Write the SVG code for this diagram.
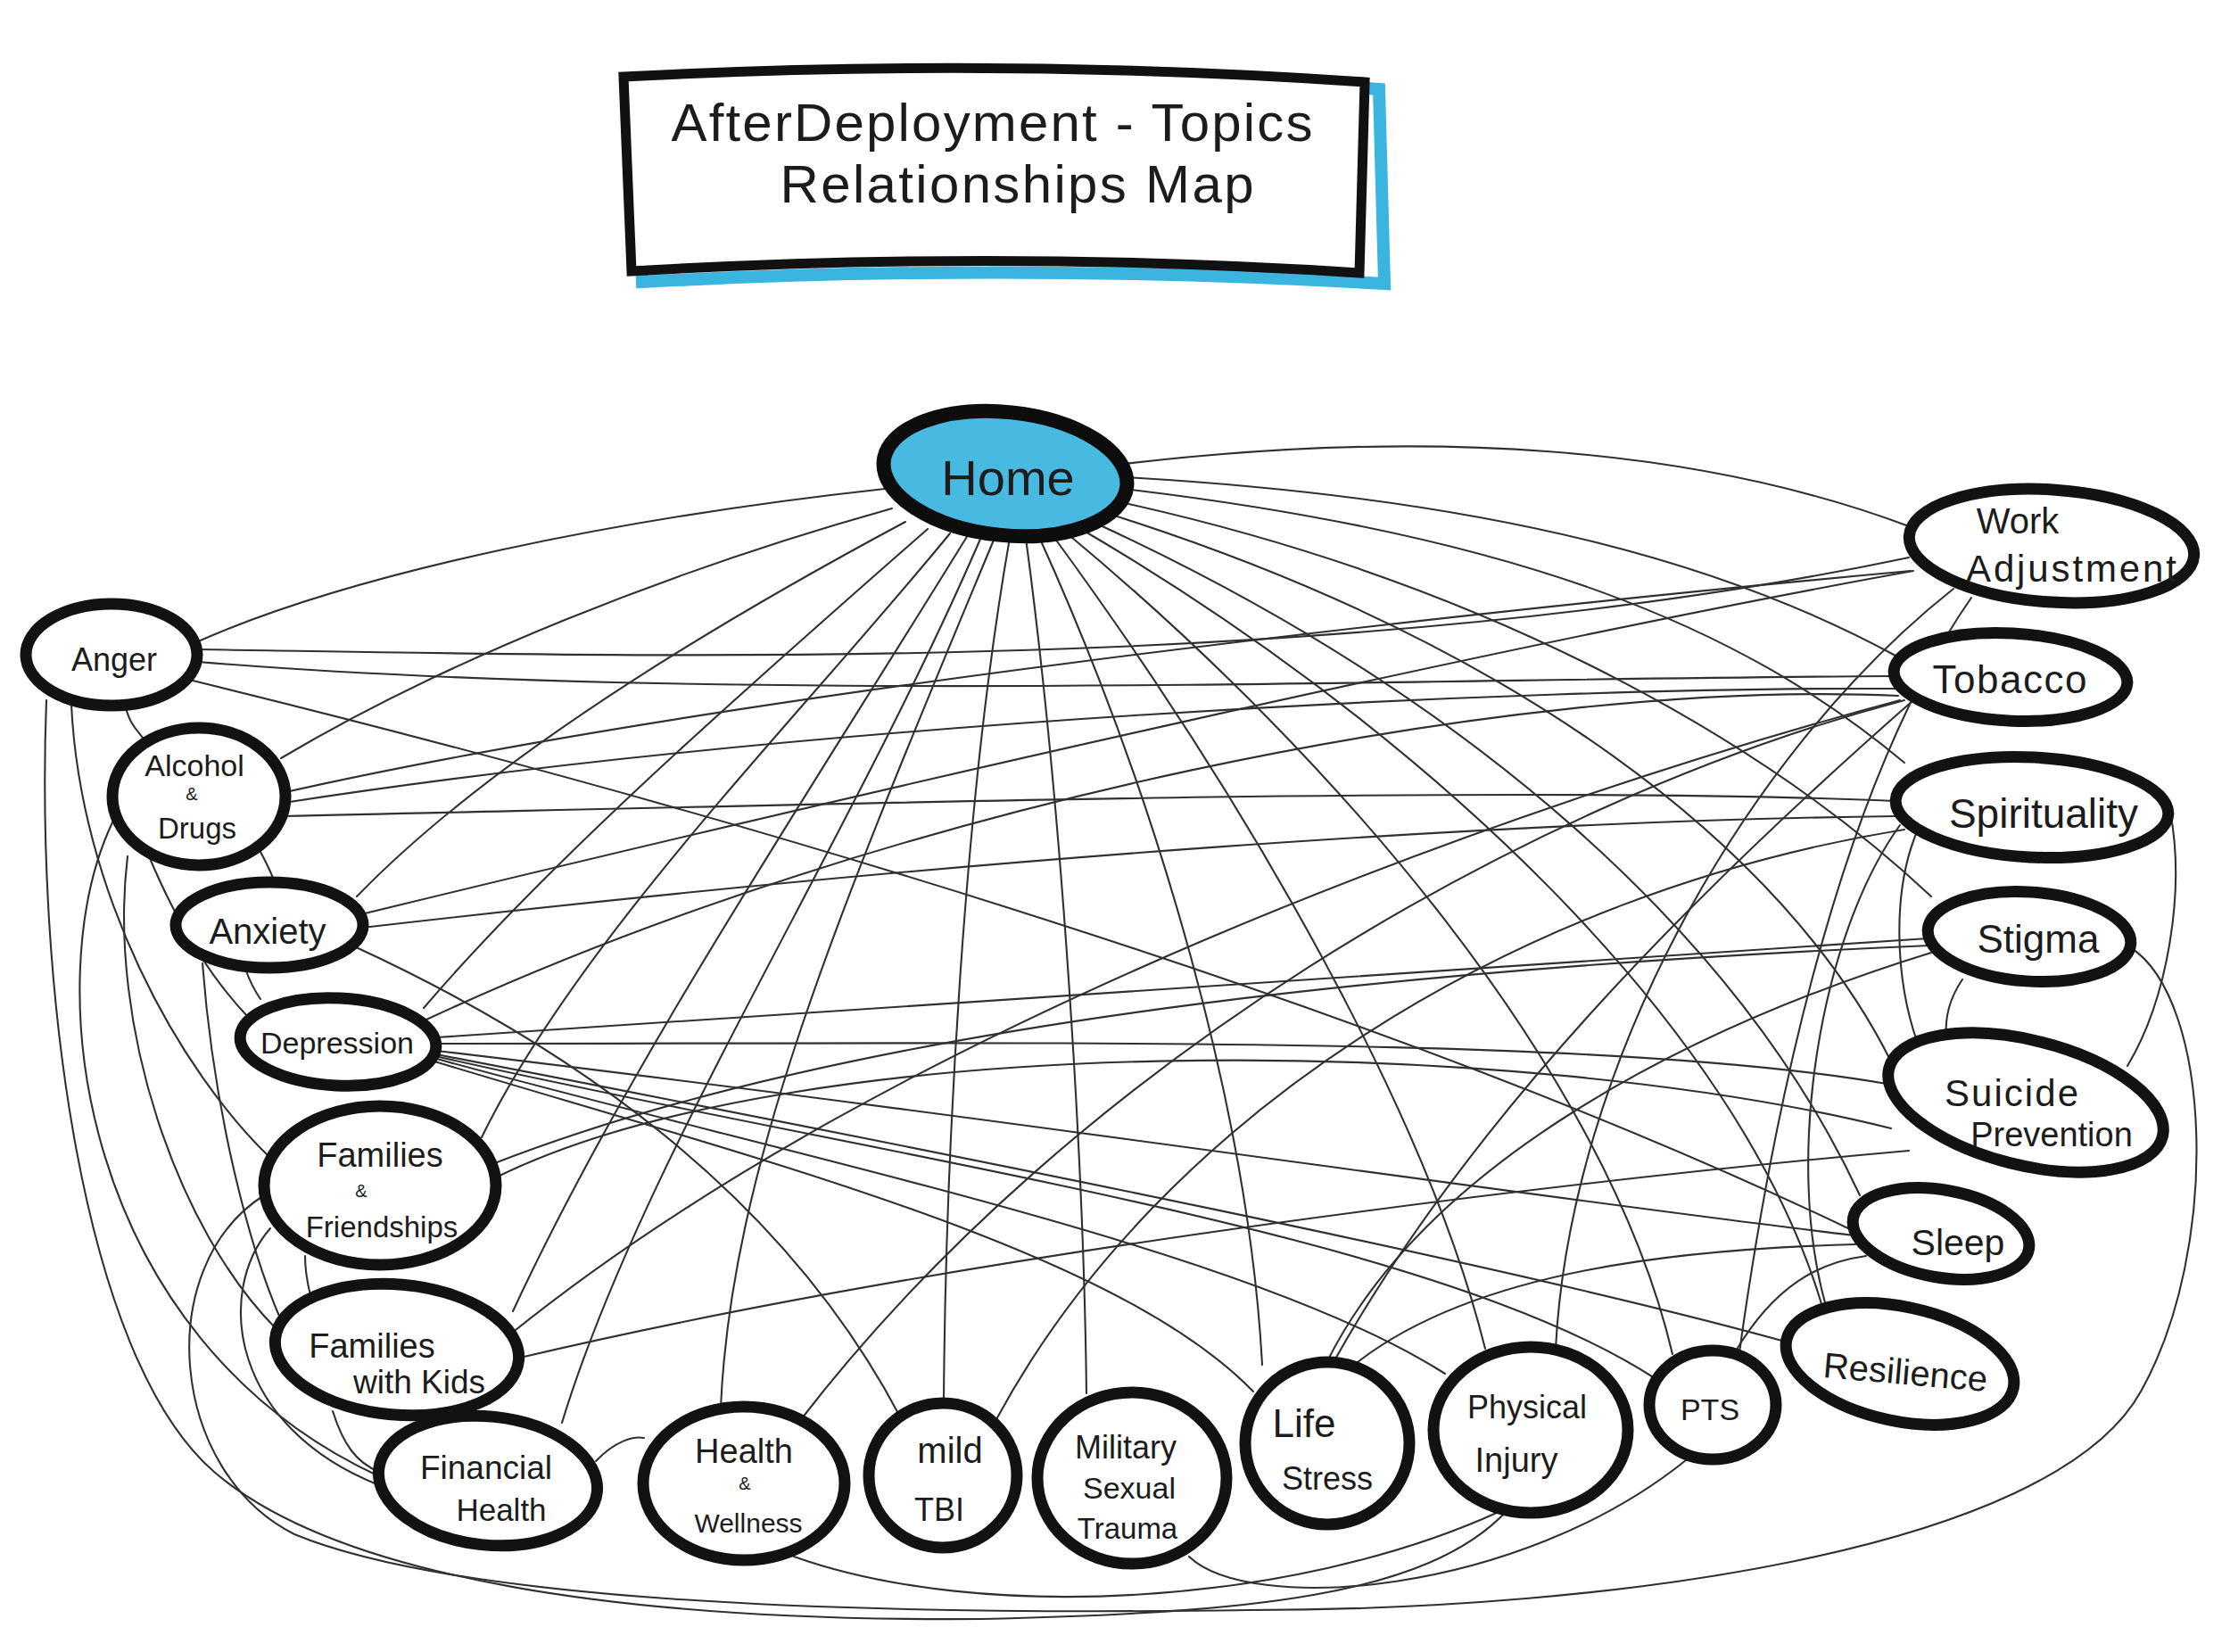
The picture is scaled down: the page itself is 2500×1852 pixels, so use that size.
<svg xmlns="http://www.w3.org/2000/svg" width="2500" height="1852" viewBox="0 0 2500 1852">
<style>
.bg{fill:#ffffff}
.e{fill:none;stroke:#303030;stroke-width:2.1;stroke-linecap:round}
.n{fill:#ffffff;stroke:#121212;stroke-width:13}
.t{font-family:"Liberation Sans","DejaVu Sans",sans-serif;fill:#1c1c1c;text-anchor:middle}
.s{font-size:20px}
</style>
<rect class="bg" x="0" y="0" width="2500" height="1852"/>
<g id="title">
<path d="M 712,92 Q 1125,72 1546,100 L 1552,318 Q 1130,294 720,316 Z" fill="none" stroke="#3cb4e0" stroke-width="14"/>
<path d="M 699,86 Q 1125,64 1530,92 L 1524,306 Q 1125,280 708,304 Z" fill="#ffffff" stroke="#111" stroke-width="11"/>
<text class="t" x="1112" y="158" font-size="60" textLength="719">AfterDeployment - Topics</text>
<text class="t" x="1140" y="227" font-size="60" textLength="531">Relationships Map</text>
</g>
<g id="connectors">
<path class="e" d="M 992,548 C 700,580 400,640 220,720"/>
<path class="e" d="M 1000,570 C 750,640 500,740 315,850"/>
<path class="e" d="M 1015,585 C 800,700 550,850 400,1005"/>
<path class="e" d="M 1040,593 C 850,760 620,960 475,1130"/>
<path class="e" d="M 1065,598 C 900,800 650,1050 540,1275"/>
<path class="e" d="M 1085,600 C 900,900 700,1200 575,1470"/>
<path class="e" d="M 1100,602 C 950,950 720,1300 630,1595"/>
<path class="e" d="M 1115,603 C 950,1000 820,1300 808,1578"/>
<path class="e" d="M 1132,603 C 1080,900 1060,1300 1058,1572"/>
<path class="e" d="M 1150,603 C 1190,900 1215,1300 1218,1562"/>
<path class="e" d="M 1165,602 C 1300,900 1400,1250 1415,1530"/>
<path class="e" d="M 1180,600 C 1400,900 1600,1250 1665,1512"/>
<path class="e" d="M 1195,597 C 1500,850 1800,1200 1875,1518"/>
<path class="e" d="M 1210,592 C 1600,820 1950,1150 2043,1465"/>
<path class="e" d="M 1225,585 C 1650,780 1950,1050 2085,1340"/>
<path class="e" d="M 1240,575 C 1700,720 2000,950 2120,1190"/>
<path class="e" d="M 1252,562 C 1700,660 2000,850 2165,1005"/>
<path class="e" d="M 1260,548 C 1700,600 1950,700 2135,855"/>
<path class="e" d="M 1262,535 C 1700,560 1950,640 2125,735"/>
<path class="e" d="M 1260,520 C 1600,480 1900,500 2140,590"/>
<path class="e" d="M 222,728 C 700,735 1500,760 2140,625"/>
<path class="e" d="M 222,742 C 800,790 1600,760 2122,758"/>
<path class="e" d="M 212,762 C 900,930 1600,1150 2078,1380"/>
<path class="e" d="M 140,790 C 145,810 150,815 165,833"/>
<path class="e" d="M 80,790 C 90,1000 200,1200 305,1300"/>
<path class="e" d="M 320,888 C 800,780 1600,690 2142,640"/>
<path class="e" d="M 318,900 C 900,810 1700,770 2125,772"/>
<path class="e" d="M 316,915 C 1000,900 1700,880 2124,898"/>
<path class="e" d="M 292,955 C 300,970 305,980 308,990"/>
<path class="e" d="M 165,955 C 200,1040 240,1100 278,1140"/>
<path class="e" d="M 143,960 C 120,1150 200,1380 310,1490"/>
<path class="e" d="M 127,920 C 40,1100 90,1500 425,1655"/>
<path class="e" d="M 405,1025 C 1000,880 1700,720 2145,640"/>
<path class="e" d="M 406,1040 C 1100,960 1700,920 2126,915"/>
<path class="e" d="M 395,1060 C 700,1200 900,1380 1010,1590"/>
<path class="e" d="M 275,1086 C 280,1100 285,1110 292,1120"/>
<path class="e" d="M 227,1080 C 240,1250 280,1400 315,1480"/>
<path class="e" d="M 478,1143 C 1000,900 1700,760 2128,780"/>
<path class="e" d="M 490,1163 C 1100,1120 1700,1080 2162,1052"/>
<path class="e" d="M 491,1170 C 1200,1170 1800,1160 2115,1215"/>
<path class="e" d="M 490,1178 C 1100,1250 1700,1340 2078,1385"/>
<path class="e" d="M 489,1182 C 1100,1300 1700,1420 2005,1505"/>
<path class="e" d="M 488,1184 C 1000,1300 1600,1380 1855,1545"/>
<path class="e" d="M 486,1186 C 900,1300 1400,1400 1620,1540"/>
<path class="e" d="M 484,1189 C 850,1300 1250,1400 1405,1560"/>
<path class="e" d="M 556,1320 C 900,1150 1700,1160 2120,1265"/>
<path class="e" d="M 552,1305 C 1000,1130 1700,1080 2163,1060"/>
<path class="e" d="M 342,1408 C 342,1425 345,1440 348,1452"/>
<path class="e" d="M 303,1377 C 240,1450 260,1600 425,1665"/>
<path class="e" d="M 573,1495 C 1000,1150 1700,900 2130,785"/>
<path class="e" d="M 583,1522 C 1100,1400 1800,1320 2140,1290"/>
<path class="e" d="M 373,1582 C 385,1620 400,1640 425,1650"/>
<path class="e" d="M 668,1638 C 690,1615 710,1610 722,1612"/>
<path class="e" d="M 899,1590 C 1200,1200 1700,900 2135,785"/>
<path class="e" d="M 890,1745 C 1100,1820 1450,1800 1680,1695"/>
<path class="e" d="M 1116,1593 C 1300,1250 1700,1000 2135,930"/>
<path class="e" d="M 1333,1745 C 1400,1810 1700,1790 1890,1637"/>
<path class="e" d="M 1512,1535 C 1650,1420 1900,1400 2080,1395"/>
<path class="e" d="M 1487,1528 C 1600,1300 1900,1150 2165,1068"/>
<path class="e" d="M 2145,785 C 1900,1000 1650,1250 1495,1527"/>
<path class="e" d="M 2190,660 C 1950,850 1760,1200 1744,1512"/>
<path class="e" d="M 2210,670 C 2050,900 1980,1300 1950,1516"/>
<path class="e" d="M 1945,1516 C 1990,1440 2040,1415 2092,1408"/>
<path class="e" d="M 2150,930 C 2120,1000 2125,1100 2150,1170"/>
<path class="e" d="M 2433,910 C 2450,1000 2430,1120 2385,1195"/>
<path class="e" d="M 2130,925 C 2040,1050 2000,1300 2047,1464"/>
<path class="e" d="M 2200,1098 C 2185,1120 2180,1140 2182,1163"/>
<path class="e" d="M 2388,1062 C 2480,1120 2490,1400 2400,1560 C 2300,1740 1800,1805 1400,1805 C 900,1812 500,1790 330,1720 C 190,1650 170,1420 296,1340"/>
<path class="e" d="M 1690,1693 C 1600,1790 1400,1808 1100,1815 C 700,1818 380,1770 240,1650 C 90,1520 40,1100 52,785"/>
</g>
<g id="home"><ellipse cx="1127" cy="531" rx="137" ry="69" transform="rotate(6 1127 531)" fill="#48b9e0" stroke="#0d0d0d" stroke-width="16"/><text class="t" x="1130" y="555" font-size="56">Home</text></g>
<g id="work-adjustment"><ellipse class="n" cx="2300" cy="612" rx="160" ry="63" transform="rotate(4 2300 612)"/><text class="t" x="2262" y="598" font-size="40">Work</text><text class="t" x="2322" y="652" font-size="42" textLength="236">Adjustment</text></g>
<g id="tobacco"><ellipse class="n" cx="2254" cy="759" rx="131" ry="49" transform="rotate(3 2254 759)"/><text class="t" x="2253" y="777" font-size="44" textLength="173">Tobacco</text></g>
<g id="spirituality"><ellipse class="n" cx="2278" cy="905" rx="153" ry="56" transform="rotate(3 2278 905)"/><text class="t" x="2291" y="928" font-size="46">Spirituality</text></g>
<g id="stigma"><ellipse class="n" cx="2275" cy="1050" rx="114" ry="50" transform="rotate(4 2275 1050)"/><text class="t" x="2285" y="1068" font-size="44">Stigma</text></g>
<g id="suicide-prevention"><ellipse class="n" cx="2271" cy="1236" rx="158" ry="70" transform="rotate(14 2271 1236)"/><text class="t" x="2255" y="1240" font-size="42" textLength="150">Suicide</text><text class="t" x="2300" y="1285" font-size="38">Prevention</text></g>
<g id="sleep"><ellipse class="n" cx="2176" cy="1383" rx="100" ry="49" transform="rotate(10 2176 1383)"/><text class="t" x="2195" y="1407" font-size="41">Sleep</text></g>
<g id="resilience"><ellipse class="n" cx="2130" cy="1529" rx="130" ry="64" transform="rotate(12 2130 1529)"/><text class="t" x="2136" y="1552" font-size="40" transform="rotate(5 2136 1540)">Resilience</text></g>
<g id="pts"><ellipse class="n" cx="1920" cy="1575" rx="71" ry="61"/><text class="t" x="1917" y="1592" font-size="34">PTS</text></g>
<g id="physical-injury"><ellipse class="n" cx="1716" cy="1603" rx="109" ry="93"/><text class="t" x="1712" y="1590" font-size="36">Physical</text><text class="t" x="1700" y="1650" font-size="38">Injury</text></g>
<g id="life-stress"><ellipse class="n" cx="1488" cy="1618" rx="92" ry="91"/><text class="t" x="1462" y="1611" font-size="44">Life</text><text class="t" x="1488" y="1670" font-size="36">Stress</text></g>
<g id="military-sexual-trauma"><ellipse class="n" cx="1269" cy="1657" rx="106" ry="96"/><text class="t" x="1262" y="1635" font-size="36">Military</text><text class="t" x="1266" y="1680" font-size="34">Sexual</text><text class="t" x="1264" y="1725" font-size="33">Trauma</text></g>
<g id="mild-tbi"><ellipse class="n" cx="1057" cy="1654" rx="83" ry="81"/><text class="t" x="1065" y="1640" font-size="40">mild</text><text class="t" x="1053" y="1705" font-size="36">TBI</text></g>
<g id="health-wellness"><ellipse class="n" cx="834" cy="1663" rx="113" ry="86"/><text class="t" x="834" y="1640" font-size="38">Health</text><text class="t s" x="835" y="1670">&amp;</text><text class="t" x="839" y="1718" font-size="30">Wellness</text></g>
<g id="financial-health"><ellipse class="n" cx="547" cy="1660" rx="123" ry="72" transform="rotate(6 547 1660)"/><text class="t" x="545" y="1658" font-size="37">Financial</text><text class="t" x="562" y="1705" font-size="35">Health</text></g>
<g id="families-with-kids"><ellipse class="n" cx="445" cy="1513" rx="137" ry="73" transform="rotate(5 445 1513)"/><text class="t" x="417" y="1522" font-size="38">Families</text><text class="t" x="470" y="1562" font-size="37">with Kids</text></g>
<g id="families-friendships"><ellipse class="n" cx="426" cy="1329" rx="130" ry="89"/><text class="t" x="426" y="1308" font-size="38">Families</text><text class="t s" x="405" y="1342">&amp;</text><text class="t" x="428" y="1387" font-size="33">Friendships</text></g>
<g id="depression"><ellipse class="n" cx="379" cy="1168" rx="110" ry="49" transform="rotate(3 379 1168)"/><text class="t" x="378" y="1181" font-size="34">Depression</text></g>
<g id="anxiety"><ellipse class="n" cx="302" cy="1037" rx="105" ry="48"/><text class="t" x="300" y="1058" font-size="40">Anxiety</text></g>
<g id="alcohol-drugs"><ellipse class="n" cx="223" cy="893" rx="97" ry="77"/><text class="t" x="218" y="870" font-size="34">Alcohol</text><text class="t s" x="215" y="897">&amp;</text><text class="t" x="221" y="940" font-size="33">Drugs</text></g>
<g id="anger"><ellipse class="n" cx="125" cy="734" rx="96" ry="57"/><text class="t" x="128" y="752" font-size="36">Anger</text></g>
</svg>
